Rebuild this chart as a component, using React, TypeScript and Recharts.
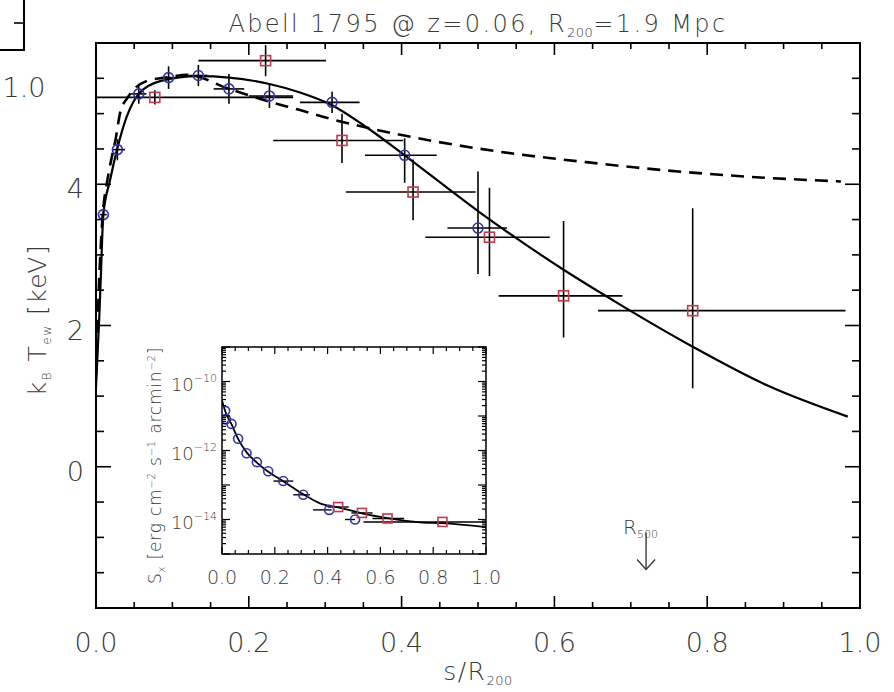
import React from "react";
import {
  ComposedChart,
  Line,
  Scatter,
  XAxis,
  YAxis,
  ErrorBar,
  ReferenceArea,
  ReferenceDot,
} from "recharts";

const FONT = "'DejaVu Sans', sans-serif";
const INK = "#3a3a3a";
const WEIGHT = 300;
const BLUE = "#3333a6";
const RED = "#bf3a4a";

// temperature profile, circles (s/R200, kT with bin edges and error limits)
const circleS = [0.0096, 0.028, 0.056, 0.095, 0.134, 0.174, 0.227, 0.309, 0.404, 0.5];
const circleSLo = [0.005, 0.021, 0.046, 0.085, 0.122, 0.154, 0.2, 0.267, 0.352, 0.46];
const circleSHi = [0.014, 0.038, 0.066, 0.105, 0.146, 0.194, 0.258, 0.345, 0.446, 0.538];
const circleT = [3.57, 4.49, 5.28, 5.51, 5.54, 5.35, 5.25, 5.16, 4.41, 3.38];
const circleTLo = [3.5, 4.34, 5.14, 5.35, 5.39, 5.14, 5.08, 5.01, 4.02, 2.73];
const circleTHi = [3.64, 4.64, 5.42, 5.67, 5.69, 5.56, 5.43, 5.31, 4.65, 4.18];

// temperature profile, squares
const squareS = [0.077, 0.222, 0.322, 0.415, 0.515, 0.612, 0.781];
const squareSLo = [0.0, 0.134, 0.232, 0.327, 0.431, 0.527, 0.657];
const squareSHi = [0.258, 0.301, 0.402, 0.497, 0.594, 0.689, 0.981];
const squareT = [5.23, 5.75, 4.62, 3.89, 3.25, 2.42, 2.21];
const squareTLo = [5.13, 5.53, 4.3, 3.49, 2.7, 1.83, 1.11];
const squareTHi = [5.33, 5.97, 5.0, 4.35, 3.95, 3.48, 3.66];

// model curves
const fitS = [0.0, 0.0043, 0.006, 0.0096, 0.018, 0.0275, 0.04, 0.056, 0.084, 0.134, 0.174, 0.227, 0.267, 0.309, 0.355, 0.404, 0.468, 0.5, 0.551, 0.612, 0.661, 0.693, 0.781, 0.879, 0.984];
const fitT = [1.13, 2.12, 2.59, 3.57, 4.04, 4.49, 4.95, 5.28, 5.46, 5.53, 5.51, 5.42, 5.3, 5.12, 4.8, 4.41, 3.88, 3.62, 3.23, 2.79, 2.46, 2.25, 1.7, 1.15, 0.71];
const dashS = [0.0, 0.004, 0.009, 0.014, 0.02, 0.025, 0.032, 0.041, 0.066, 0.097, 0.119, 0.174, 0.227, 0.267, 0.302, 0.355, 0.442, 0.529, 0.661, 0.704, 0.879, 0.975];
const dashT = [1.3, 2.6, 3.6, 4.0, 4.35, 4.6, 5.03, 5.22, 5.46, 5.52, 5.55, 5.35, 5.17, 5.05, 4.94, 4.8, 4.61, 4.46, 4.29, 4.24, 4.09, 4.04];

const R500 = 0.72;

// surface brightness (inset)
const sxCircleS = [0.012, 0.015, 0.036, 0.061, 0.093, 0.132, 0.175, 0.232, 0.308, 0.406, 0.504];
const sxCircleSLo = [0.012, 0.015, 0.036, 0.061, 0.093, 0.132, 0.175, 0.195, 0.27, 0.345, 0.466];
const sxCircleSHi = [0.012, 0.015, 0.036, 0.061, 0.093, 0.132, 0.175, 0.27, 0.333, 0.415, 0.504];
const sxCircle = [1.41e-11, 8.1e-12, 5.9e-12, 2.2e-12, 8.3e-13, 4.6e-13, 2.5e-13, 1.3e-13, 5.2e-14, 1.9e-14, 1.0e-14];

const sxSquareS = [0.44, 0.53, 0.627, 0.835];
const sxSquareSLo = [0.4, 0.49, 0.57, 0.536];
const sxSquareSHi = [0.48, 0.57, 0.69, 1.0];
const sxSquare = [2.3e-14, 1.55e-14, 1.07e-14, 8.5e-15];

const sxFitS = [0.0, 0.014, 0.037, 0.06, 0.094, 0.132, 0.174, 0.232, 0.308, 0.371, 0.44, 0.53, 0.627, 0.75, 0.835, 1.0];
const sxFit = [2.8e-11, 1.26e-11, 5.6e-12, 2.24e-12, 8.7e-13, 4.47e-13, 2.45e-13, 1.29e-13, 5.4e-14, 2.95e-14, 2.24e-14, 1.51e-14, 1.1e-14, 8.3e-15, 7.8e-15, 6.0e-15];

// tick positions
const xTicks = Array.from({ length: 21 }, (_, i) => i * 0.05);
const xLabelEvery = 0.2;
const yTicks = Array.from({ length: 17 }, (_, i) => -2 + i * 0.5);
const yLabels = [0, 2, 4];
const sxDecades = [-15, -14, -13, -12, -11, -10];
const sxTicks = [...sxDecades.flatMap((e) => [1, 2, 3, 4, 5, 6, 7, 8, 9].map((m) => m * Math.pow(10, e))), 1e-9];
const sxLabels = [-10, -12, -14];

const circles = circleS.map((s, i) => ({
  x: s,
  y: circleT[i],
  xe: [s - circleSLo[i], circleSHi[i] - s],
  ye: [circleT[i] - circleTLo[i], circleTHi[i] - circleT[i]],
}));
const squares = squareS.map((s, i) => ({
  x: s,
  y: squareT[i],
  xe: [s - squareSLo[i], squareSHi[i] - s],
  ye: [squareT[i] - squareTLo[i], squareTHi[i] - squareT[i]],
}));
const fitCurve = fitS.map((s, i) => ({ x: s, y: fitT[i] }));
const dashCurve = dashS.map((s, i) => ({ x: s, y: dashT[i] }));

const sxCircles = sxCircleS.map((s, i) => ({ x: s, y: sxCircle[i], xe: [s - sxCircleSLo[i], sxCircleSHi[i] - s] }));
const sxSquares = sxSquareS.map((s, i) => ({ x: s, y: sxSquare[i], xe: [s - sxSquareSLo[i], sxSquareSHi[i] - s] }));
const sxCurve = sxFitS.map((s, i) => ({ x: s, y: sxFit[i] }));

// plot boxes in svg pixels
const MAIN = { left: 96, right: 860, top: 43, bottom: 608 };
const INSET_POS = { left: 130, top: 300, width: 370, height: 300 };
const INSET = { left: 92, right: 356, top: 47, bottom: 254 };

const isMultiple = (v: number, step: number) => Math.abs(v / step - Math.round(v / step)) < 1e-6;

const textStyle = { fill: INK, fontFamily: FONT, fontWeight: WEIGHT };

const MainXTick = (props: any) => {
  const { x, payload } = props;
  const v = payload.value as number;
  const major = isMultiple(v, xLabelEvery);
  const len = major ? 12 : 6;
  return (
    <g>
      <line x1={x} x2={x} y1={MAIN.bottom} y2={MAIN.bottom - len} stroke="#000" strokeWidth={1.6} />
      <line x1={x} x2={x} y1={MAIN.top} y2={MAIN.top + len} stroke="#000" strokeWidth={1.6} />
      {major && (
        <text x={x} y={MAIN.bottom + 44} textAnchor="middle" fontSize={27} {...textStyle}>
          {v.toFixed(1)}
        </text>
      )}
    </g>
  );
};

const MainYTick = (props: any) => {
  const { y, payload } = props;
  const v = payload.value as number;
  const major = isMultiple(v, 2);
  const len = major ? 15 : 8;
  return (
    <g>
      <line x1={MAIN.left} x2={MAIN.left + len} y1={y} y2={y} stroke="#000" strokeWidth={1.6} />
      <line x1={MAIN.right} x2={MAIN.right - len} y1={y} y2={y} stroke="#000" strokeWidth={1.6} />
      {yLabels.includes(v) && (
        <text x={MAIN.left - 12} y={y + 14} textAnchor="end" fontSize={27} {...textStyle}>
          {v}
        </text>
      )}
    </g>
  );
};

const InsetXTick = (props: any) => {
  const { x, payload } = props;
  const v = payload.value as number;
  const major = isMultiple(v, xLabelEvery);
  const len = major ? 7 : 4;
  return (
    <g>
      <line x1={x} x2={x} y1={INSET.bottom} y2={INSET.bottom - len} stroke="#000" strokeWidth={1.2} />
      <line x1={x} x2={x} y1={INSET.top} y2={INSET.top + len} stroke="#000" strokeWidth={1.2} />
      {major && (
        <text x={x} y={INSET.bottom + 30} textAnchor="middle" fontSize={19} {...textStyle}>
          {v.toFixed(1)}
        </text>
      )}
    </g>
  );
};

const InsetYTick = (props: any) => {
  const { y, payload } = props;
  const v = payload.value as number;
  const e = Math.log10(v);
  const major = Math.abs(e - Math.round(e)) < 1e-6;
  const len = major ? 8 : 4;
  const exp = Math.round(e);
  return (
    <g>
      <line x1={INSET.left} x2={INSET.left + len} y1={y} y2={y} stroke="#000" strokeWidth={1.2} />
      <line x1={INSET.right} x2={INSET.right - len} y1={y} y2={y} stroke="#000" strokeWidth={1.2} />
      {major && sxLabels.includes(exp) && (
        <text x={INSET.left - 5} y={y + 9} textAnchor="end" fontSize={18} {...textStyle}>
          10
          <tspan dy={-9} fontSize={11}>
            {"\u2212" + Math.abs(exp)}
          </tspan>
        </text>
      )}
    </g>
  );
};

const circleShape = (r: number) => (p: any) => (
  <circle cx={p.cx} cy={p.cy} r={r} fill="none" stroke={BLUE} strokeWidth={1.6} />
);
const squareShape = (h: number) => (p: any) => (
  <rect x={p.cx - h} y={p.cy - h} width={2 * h} height={2 * h} fill="none" stroke={RED} strokeWidth={1.6} />
);

const R500Marker = (p: any) => (
  <g>
    <line x1={p.cx} x2={p.cx} y1={p.cy} y2={p.cy + 37} stroke={INK} strokeWidth={1.4} />
    <polyline
      points={`${p.cx - 9},${p.cy + 27} ${p.cx},${p.cy + 37} ${p.cx + 9},${p.cy + 27}`}
      fill="none"
      stroke={INK}
      strokeWidth={1.4}
    />
    <text x={p.cx - 23} y={p.cy + 2} fontSize={20} {...textStyle}>
      R<tspan dy={4} fontSize={11}>500</tspan>
    </text>
  </g>
);

function Inset() {
  return (
    <ComposedChart
      width={INSET_POS.width}
      height={INSET_POS.height}
      margin={{ top: INSET.top, right: INSET_POS.width - INSET.right, bottom: 16, left: 42 }}
    >
      <XAxis
        type="number"
        dataKey="x"
        domain={[0, 1]}
        ticks={xTicks}
        interval={0}
        tick={<InsetXTick />}
        tickLine={false}
        axisLine={false}
        height={30}
        allowDataOverflow
      />
      <YAxis
        type="number"
        scale="log"
        domain={[1e-15, 1e-9]}
        ticks={sxTicks}
        interval={0}
        tick={<InsetYTick />}
        tickLine={false}
        axisLine={false}
        width={50}
        allowDataOverflow
      />
      <ReferenceArea x1={0} x2={1} y1={1e-15} y2={1e-9} fill="#fff" fillOpacity={0} stroke="#000" strokeWidth={1.5} />
      <Line data={sxCurve} dataKey="y" type="monotone" dot={false} stroke="#000" strokeWidth={1.8} isAnimationActive={false} />
      <Scatter data={sxCircles} dataKey="y" shape={circleShape(4.5)} isAnimationActive={false}>
        <ErrorBar dataKey="xe" direction="x" width={0} stroke="#000" strokeWidth={1.4} />
      </Scatter>
      <Scatter data={sxSquares} dataKey="y" shape={squareShape(4.5)} isAnimationActive={false}>
        <ErrorBar dataKey="xe" direction="x" width={0} stroke="#000" strokeWidth={1.4} />
      </Scatter>
    </ComposedChart>
  );
}

export default function App() {
  return (
    <div style={{ position: "relative", width: 894, height: 692, background: "#fff", fontFamily: FONT }}>
      <style>{"body{margin:0}"}</style>
      <ComposedChart width={894} height={692} margin={{ top: MAIN.top, right: 894 - MAIN.right, bottom: 44, left: 36 }}>
        <XAxis
          type="number"
          dataKey="x"
          domain={[0, 1]}
          ticks={xTicks}
          interval={0}
          tick={<MainXTick />}
          tickLine={false}
          axisLine={false}
          height={40}
          allowDataOverflow
        />
        <YAxis
          type="number"
          domain={[-2, 6]}
          ticks={yTicks}
          interval={0}
          tick={<MainYTick />}
          tickLine={false}
          axisLine={false}
          width={60}
          allowDataOverflow
        />
        <ReferenceArea x1={0} x2={1} y1={-2} y2={6} fill="#fff" fillOpacity={0} stroke="#000" strokeWidth={2} />
        <Line data={fitCurve} dataKey="y" type="monotone" dot={false} stroke="#000" strokeWidth={2.2} isAnimationActive={false} />
        <Line
          data={dashCurve}
          dataKey="y"
          type="monotone"
          dot={false}
          stroke="#000"
          strokeWidth={2.6}
          strokeDasharray="13 8"
          isAnimationActive={false}
        />
        <Scatter data={circles} dataKey="y" shape={circleShape(5)} isAnimationActive={false}>
          <ErrorBar dataKey="xe" direction="x" width={0} stroke="#000" strokeWidth={1.6} />
          <ErrorBar dataKey="ye" direction="y" width={0} stroke="#000" strokeWidth={1.6} />
        </Scatter>
        <Scatter data={squares} dataKey="y" shape={squareShape(5)} isAnimationActive={false}>
          <ErrorBar dataKey="xe" direction="x" width={0} stroke="#000" strokeWidth={1.6} />
          <ErrorBar dataKey="ye" direction="y" width={0} stroke="#000" strokeWidth={1.6} />
        </Scatter>
        <ReferenceDot x={R500} y={-0.93} r={0} shape={R500Marker} />
      </ComposedChart>

      <div style={{ position: "absolute", left: INSET_POS.left, top: INSET_POS.top }}>
        <Inset />
      </div>

      <svg
        width={894}
        height={692}
        style={{ position: "absolute", left: 0, top: 0, pointerEvents: "none" }}
        fontFamily={FONT}
        fontWeight={WEIGHT}
      >
        {/* corner of the neighbouring panel */}
        <line x1={24} x2={24} y1={0} y2={51} stroke="#000" strokeWidth={2} />
        <line x1={0} x2={25} y1={50} y2={50} stroke="#000" strokeWidth={2} />
        <line x1={14} x2={24} y1={23} y2={23} stroke="#000" strokeWidth={1.6} />
        <text x={24} y={97} textAnchor="middle" fontSize={27} fill={INK}>
          1.0
        </text>

        <text x={478} y={32} textAnchor="middle" fontSize={24} fill={INK} letterSpacing={2.4}>
          Abell 1795 @ z=0.06, R<tspan dy={5} fontSize={13} letterSpacing={0.5}>200</tspan>
          <tspan dy={-5}>=1.9 Mpc</tspan>
        </text>

        <text x={478} y={680} textAnchor="middle" fontSize={25} fill={INK} letterSpacing={1.5}>
          s/R<tspan dy={5} fontSize={13} letterSpacing={0.5}>200</tspan>
        </text>

        <text
          x={46}
          y={320}
          textAnchor="middle"
          fontSize={25}
          fill={INK}
          letterSpacing={1.5}
          transform="rotate(-90 46 320)"
        >
          k<tspan dy={5} fontSize={12}>B</tspan>
          <tspan dy={-5}> T</tspan>
          <tspan dy={5} fontSize={12}>ew</tspan>
          <tspan dy={-5}> [keV]</tspan>
        </text>

        <text
          x={161}
          y={584}
          textAnchor="start"
          fontSize={17}
          fill={INK}
          letterSpacing={0.8}
          transform="rotate(-90 161 584)"
        >
          S<tspan dy={4} fontSize={10}>x</tspan>
          <tspan dy={-4}> [erg cm</tspan>
          <tspan dy={-6} fontSize={10}>{"\u22122"}</tspan>
          <tspan dy={6}> s</tspan>
          <tspan dy={-6} fontSize={10}>{"\u22121"}</tspan>
          <tspan dy={6}> arcmin</tspan>
          <tspan dy={-6} fontSize={10}>{"\u22122"}</tspan>
          <tspan dy={6}>]</tspan>
        </text>
      </svg>
    </div>
  );
}
